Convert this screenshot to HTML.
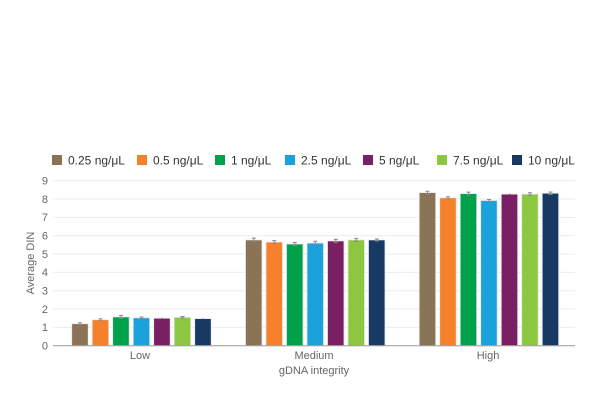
<!DOCTYPE html>
<html><head><meta charset="utf-8"><style>body{margin:0;background:#fff}svg{display:block}</style></head><body>
<svg width="600" height="400" xmlns="http://www.w3.org/2000/svg" font-family="Liberation Sans, sans-serif">
<g stroke="#ebebeb" stroke-width="1">
<line x1="53" x2="575" y1="327.4" y2="327.4"/><line x1="53" x2="575" y1="309" y2="309"/><line x1="53" x2="575" y1="290.7" y2="290.7"/><line x1="53" x2="575" y1="272.4" y2="272.4"/><line x1="53" x2="575" y1="254" y2="254"/><line x1="53" x2="575" y1="235.7" y2="235.7"/><line x1="53" x2="575" y1="217.4" y2="217.4"/><line x1="53" x2="575" y1="199" y2="199"/><line x1="53" x2="575" y1="180.7" y2="180.7"/>
</g>
<g font-size="11" fill="#666" text-anchor="end">
<text x="48" y="349.5">0</text><text x="48" y="331.2">1</text><text x="48" y="312.8">2</text><text x="48" y="294.5">3</text><text x="48" y="276.2">4</text><text x="48" y="257.8">5</text><text x="48" y="239.5">6</text><text x="48" y="221.2">7</text><text x="48" y="202.8">8</text><text x="48" y="184.5">9</text>
</g>
<text transform="translate(34,263) rotate(-90)" font-size="11" fill="#666" text-anchor="middle">Average DIN</text>
<g stroke="#e8e8e8" stroke-width="0.8">
<rect x="71.7" y="323.7" width="16.5" height="22" fill="#8B7355"/>
<rect x="92.2" y="319.7" width="16.5" height="26" fill="#F5812A"/>
<rect x="112.7" y="316.9" width="16.5" height="28.8" fill="#00A14B"/>
<rect x="133.2" y="317.8" width="16.5" height="27.9" fill="#1BA1DC"/>
<rect x="153.7" y="318.2" width="16.5" height="27.5" fill="#7A1F63"/>
<rect x="174.2" y="317.3" width="16.5" height="28.4" fill="#8DC63F"/>
<rect x="194.7" y="318.6" width="16.5" height="27.1" fill="#163A63"/>
<rect x="245.5" y="239.9" width="16.5" height="105.8" fill="#8B7355"/>
<rect x="266" y="242.1" width="16.5" height="103.6" fill="#F5812A"/>
<rect x="286.5" y="244" width="16.5" height="101.7" fill="#00A14B"/>
<rect x="307" y="243.1" width="16.5" height="102.6" fill="#1BA1DC"/>
<rect x="327.5" y="240.9" width="16.5" height="104.8" fill="#7A1F63"/>
<rect x="348" y="239.9" width="16.5" height="105.8" fill="#8DC63F"/>
<rect x="368.5" y="239.9" width="16.5" height="105.8" fill="#163A63"/>
<rect x="419.2" y="192.6" width="16.5" height="153.1" fill="#8B7355"/>
<rect x="439.7" y="197.8" width="16.5" height="147.9" fill="#F5812A"/>
<rect x="460.2" y="193.6" width="16.5" height="152.1" fill="#00A14B"/>
<rect x="480.7" y="200.5" width="16.5" height="145.2" fill="#1BA1DC"/>
<rect x="501.2" y="194.1" width="16.5" height="151.6" fill="#7A1F63"/>
<rect x="521.7" y="194.1" width="16.5" height="151.6" fill="#8DC63F"/>
<rect x="542.2" y="193.2" width="16.5" height="152.5" fill="#163A63"/>
</g>
<g stroke="#888" stroke-width="1" fill="none">
<path d="M80 322.8v1.8M78 322.8h4M78 324.6h4"/>
<path d="M100.5 318.7v2M98.5 318.7h4M98.5 320.7h4"/>
<path d="M121 315.4v3M119 315.4h4M119 318.4h4"/>
<path d="M141.5 317v1.6M139.5 317h4M139.5 318.6h4"/>
<path d="M162 317.6v1.2"/>
<path d="M182.5 316.5v1.6M180.5 316.5h4M180.5 318.1h4"/>
<path d="M203 318v1.2"/>
<path d="M253.8 238.1v3.6M251.8 238.1h4M251.8 241.7h4"/>
<path d="M274.3 240.6v3M272.3 240.6h4M272.3 243.6h4"/>
<path d="M294.8 242.5v3M292.8 242.5h4M292.8 245.5h4"/>
<path d="M315.3 241.2v3.6M313.3 241.2h4M313.3 244.8h4"/>
<path d="M335.8 239.4v3M333.8 239.4h4M333.8 242.4h4"/>
<path d="M356.3 238.4v3M354.3 238.4h4M354.3 241.4h4"/>
<path d="M376.8 239v2M374.8 239h4M374.8 241h4"/>
<path d="M427.5 191.3v2.6M425.5 191.3h4M425.5 193.9h4"/>
<path d="M448 196.7v2.2M446 196.7h4M446 198.9h4"/>
<path d="M468.5 192.1v3M466.5 192.1h4M466.5 195.1h4"/>
<path d="M489 199.5v2M487 199.5h4M487 201.5h4"/>
<path d="M509.5 193.6v1"/>
<path d="M530 192.8v2.6M528 192.8h4M528 195.4h4"/>
<path d="M550.5 192v2.4M548.5 192h4M548.5 194.4h4"/>
</g>
<line x1="53" x2="575" y1="345.7" y2="345.7" stroke="#999" stroke-width="1"/>
<g font-size="11" fill="#666" text-anchor="middle">
<text x="140" y="359">Low</text><text x="314" y="359">Medium</text><text x="488" y="359">High</text>
<text x="314" y="374">gDNA integrity</text>
</g>
<g font-size="12" fill="#333">
<rect x="52" y="155" width="10" height="10" fill="#8B7355"/><text x="68" y="164.5">0.25 ng/μL</text>
<rect x="137" y="155" width="10" height="10" fill="#F5812A"/><text x="153" y="164.5">0.5 ng/μL</text>
<rect x="215" y="155" width="10" height="10" fill="#00A14B"/><text x="231" y="164.5">1 ng/μL</text>
<rect x="285" y="155" width="10" height="10" fill="#1BA1DC"/><text x="301" y="164.5">2.5 ng/μL</text>
<rect x="363" y="155" width="10" height="10" fill="#7A1F63"/><text x="379" y="164.5">5 ng/μL</text>
<rect x="437" y="155" width="10" height="10" fill="#8DC63F"/><text x="453" y="164.5">7.5 ng/μL</text>
<rect x="512" y="155" width="10" height="10" fill="#163A63"/><text x="528" y="164.5">10 ng/μL</text>
</g>
</svg>
</body></html>
